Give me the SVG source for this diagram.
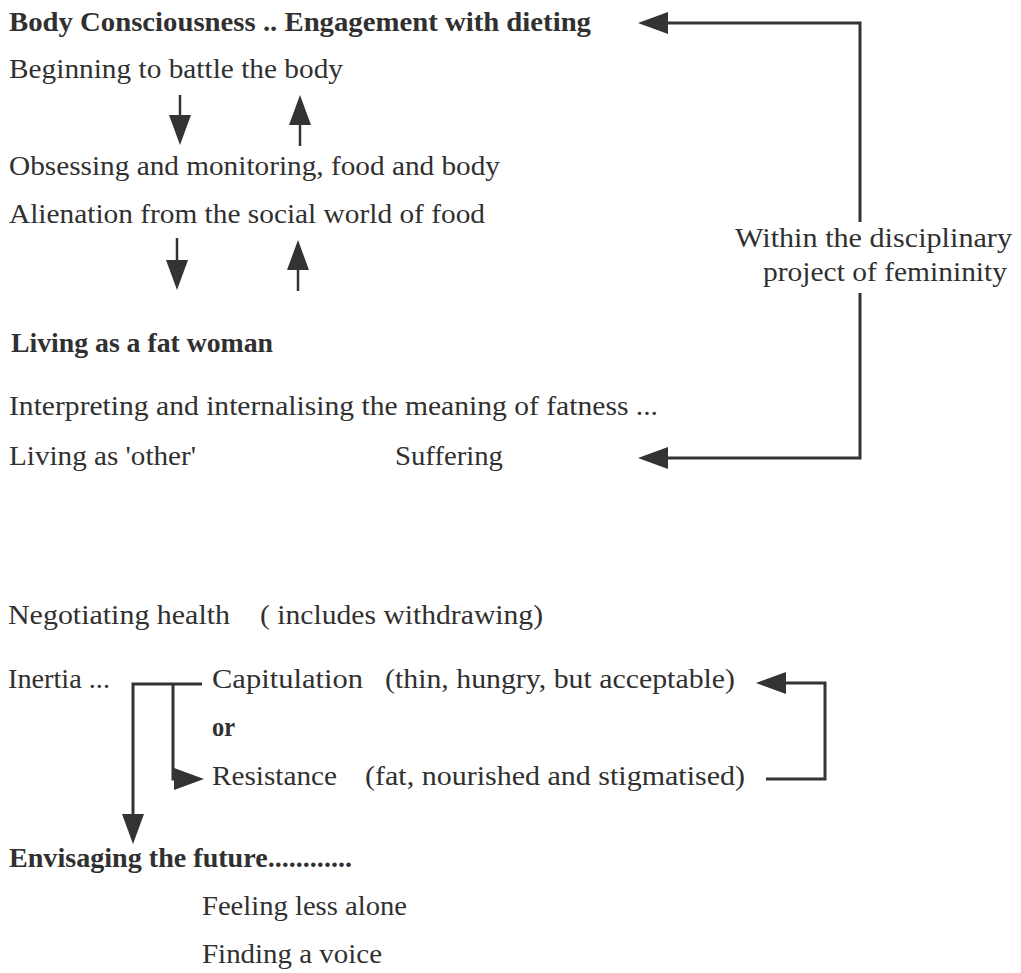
<svg xmlns="http://www.w3.org/2000/svg" width="1021" height="973" viewBox="0 0 1021 973">
<style>
text{font-family:"Liberation Serif","Times New Roman",serif;font-size:27px;fill:#303030;}
.b{font-weight:bold;}
.c{fill:none;stroke:#333;stroke-width:3;}
.s{fill:none;stroke:#333;stroke-width:2.5;}
</style>
<defs>
<marker id="ah" markerUnits="userSpaceOnUse" markerWidth="32" markerHeight="24" viewBox="0 -12 32 24" refX="0" refY="0" orient="auto">
<path d="M0,-11 L30,0 L0,11 Z" fill="#333"/>
</marker>
</defs>
<rect width="1021" height="973" fill="#fff"/>
<g id="n-body-consciousness"><text class="b" x="9" y="31" textLength="582" lengthAdjust="spacingAndGlyphs">Body Consciousness .. Engagement with dieting</text></g>
<g id="n-beginning"><text x="9" y="78" textLength="334" lengthAdjust="spacingAndGlyphs">Beginning to battle the body</text></g>
<g id="n-obsessing"><text x="9" y="175" textLength="491" lengthAdjust="spacingAndGlyphs">Obsessing and monitoring, food and body</text></g>
<g id="n-alienation"><text x="9" y="223" textLength="476" lengthAdjust="spacingAndGlyphs">Alienation from the social world of food</text></g>
<g id="n-living-fat"><text class="b" x="11" y="352" textLength="262" lengthAdjust="spacingAndGlyphs">Living as a fat woman</text></g>
<g id="n-interpreting"><text x="9" y="415" textLength="649" lengthAdjust="spacingAndGlyphs">Interpreting and internalising the meaning of fatness ...</text></g>
<g id="n-other"><text x="9" y="465" textLength="187" lengthAdjust="spacingAndGlyphs">Living as 'other'</text></g>
<g id="n-suffering"><text x="395" y="465" textLength="108" lengthAdjust="spacingAndGlyphs">Suffering</text></g>
<g id="n-disciplinary"><text x="735" y="247" textLength="277" lengthAdjust="spacingAndGlyphs">Within the disciplinary</text><text x="763" y="281" textLength="244" lengthAdjust="spacingAndGlyphs">project of femininity</text></g>
<g id="n-negotiating"><text x="8" y="624" textLength="222" lengthAdjust="spacingAndGlyphs">Negotiating health</text><text x="260" y="624" textLength="283" lengthAdjust="spacingAndGlyphs">( includes withdrawing)</text></g>
<g id="n-inertia"><text x="8" y="688" textLength="102" lengthAdjust="spacingAndGlyphs">Inertia ...</text></g>
<g id="n-capitulation"><text x="212" y="688" textLength="151" lengthAdjust="spacingAndGlyphs">Capitulation</text><text x="385" y="688" textLength="350" lengthAdjust="spacingAndGlyphs">(thin, hungry, but acceptable)</text></g>
<g id="n-or"><text class="b" x="212" y="736" textLength="23" lengthAdjust="spacingAndGlyphs">or</text></g>
<g id="n-resistance"><text x="212" y="785" textLength="125" lengthAdjust="spacingAndGlyphs">Resistance</text><text x="365" y="785" textLength="380" lengthAdjust="spacingAndGlyphs">(fat, nourished and stigmatised)</text></g>
<g id="n-envisaging"><text class="b" x="9" y="867" textLength="343" lengthAdjust="spacingAndGlyphs">Envisaging the future............</text></g>
<g id="n-feeling"><text x="202" y="915" textLength="205" lengthAdjust="spacingAndGlyphs">Feeling less alone</text></g>
<g id="n-voice"><text x="202" y="963" textLength="180" lengthAdjust="spacingAndGlyphs">Finding a voice</text></g>
<g id="connectors">
<path class="c" d="M860,222 V23 H668" marker-end="url(#ah)"/>
<path class="c" d="M860,293 V458 H668" marker-end="url(#ah)"/>
<path class="s" d="M180,95 V115" marker-end="url(#ah)"/>
<path class="s" d="M300,146 V125" marker-end="url(#ah)"/>
<path class="s" d="M177,238 V260" marker-end="url(#ah)"/>
<path class="s" d="M298,291 V270" marker-end="url(#ah)"/>
<path class="c" d="M202,684 H133 V814" marker-end="url(#ah)"/>
<path class="c" d="M173,684 V779 H174" marker-end="url(#ah)"/>
<path class="c" d="M766,779 H825 V683 H786" marker-end="url(#ah)"/>
</g>
</svg>
